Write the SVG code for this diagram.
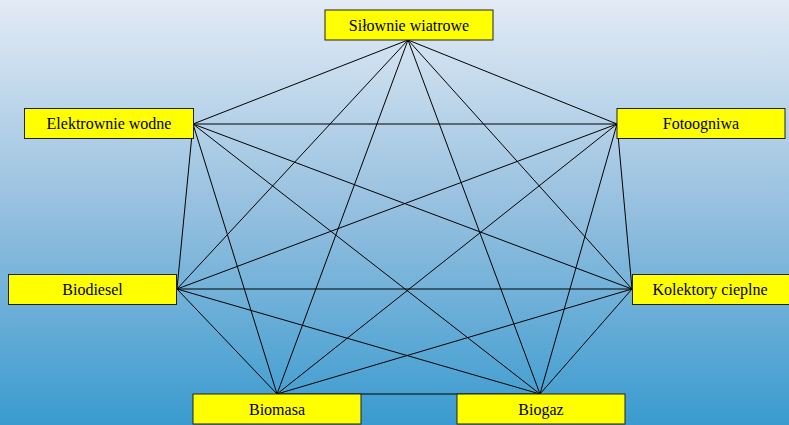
<svg xmlns="http://www.w3.org/2000/svg" width="789" height="425" viewBox="0 0 789 425">
<defs>
<linearGradient id="bg" x1="0" y1="0" x2="0" y2="1">
<stop offset="0" stop-color="#e3ebf5"/>
<stop offset="0.5" stop-color="#94bfdf"/>
<stop offset="1" stop-color="#3a9bcf"/>
</linearGradient>
<style>
.box{fill:#ffff00;stroke:#222;stroke-width:1}
.lbl{font-family:"Liberation Serif","Times New Roman",serif;font-size:16px;fill:#000;text-anchor:middle;dominant-baseline:central}
#edges line{stroke:#000;stroke-width:1}
</style>
</defs>
<rect x="0" y="0" width="789" height="425" fill="url(#bg)"/>
<g id="edges">
<line x1="408" y1="40" x2="193" y2="124"/>
<line x1="408" y1="40" x2="617" y2="124"/>
<line x1="408" y1="40" x2="177" y2="289"/>
<line x1="408" y1="40" x2="632" y2="289"/>
<line x1="408" y1="40" x2="277" y2="394"/>
<line x1="408" y1="40" x2="540" y2="394"/>
<line x1="193" y1="124" x2="617" y2="124"/>
<line x1="193" y1="124" x2="177" y2="289"/>
<line x1="193" y1="124" x2="632" y2="289"/>
<line x1="193" y1="124" x2="277" y2="394"/>
<line x1="193" y1="124" x2="540" y2="394"/>
<line x1="617" y1="124" x2="177" y2="289"/>
<line x1="617" y1="124" x2="632" y2="289"/>
<line x1="617" y1="124" x2="277" y2="394"/>
<line x1="617" y1="124" x2="540" y2="394"/>
<line x1="177" y1="289" x2="632" y2="289"/>
<line x1="177" y1="289" x2="277" y2="394"/>
<line x1="177" y1="289" x2="540" y2="394"/>
<line x1="632" y1="289" x2="277" y2="394"/>
<line x1="632" y1="289" x2="540" y2="394"/>
<line x1="277" y1="394" x2="540" y2="394"/>
</g>
<g id="silownie">
<rect class="box" x="325" y="10" width="168" height="30"/>
<text class="lbl" x="409" y="25">Siłownie wiatrowe</text>
</g>
<g id="elektrownie">
<rect class="box" x="24.5" y="108.5" width="169" height="30"/>
<text class="lbl" x="109" y="123.5">Elektrownie wodne</text>
</g>
<g id="fotoogniwa">
<rect class="box" x="617" y="108.5" width="168" height="30"/>
<text class="lbl" x="701" y="123.5">Fotoogniwa</text>
</g>
<g id="biodiesel">
<rect class="box" x="8.5" y="274.5" width="168" height="30"/>
<text class="lbl" x="92.5" y="289.5">Biodiesel</text>
</g>
<g id="kolektory">
<rect class="box" x="632.5" y="274.5" width="170" height="30"/>
<text class="lbl" x="710" y="289.5">Kolektory cieplne</text>
</g>
<g id="biomasa">
<rect class="box" x="193" y="394" width="168" height="30"/>
<text class="lbl" x="277" y="409">Biomasa</text>
</g>
<g id="biogaz">
<rect class="box" x="457" y="394" width="168" height="30"/>
<text class="lbl" x="541" y="409">Biogaz</text>
</g>
</svg>
